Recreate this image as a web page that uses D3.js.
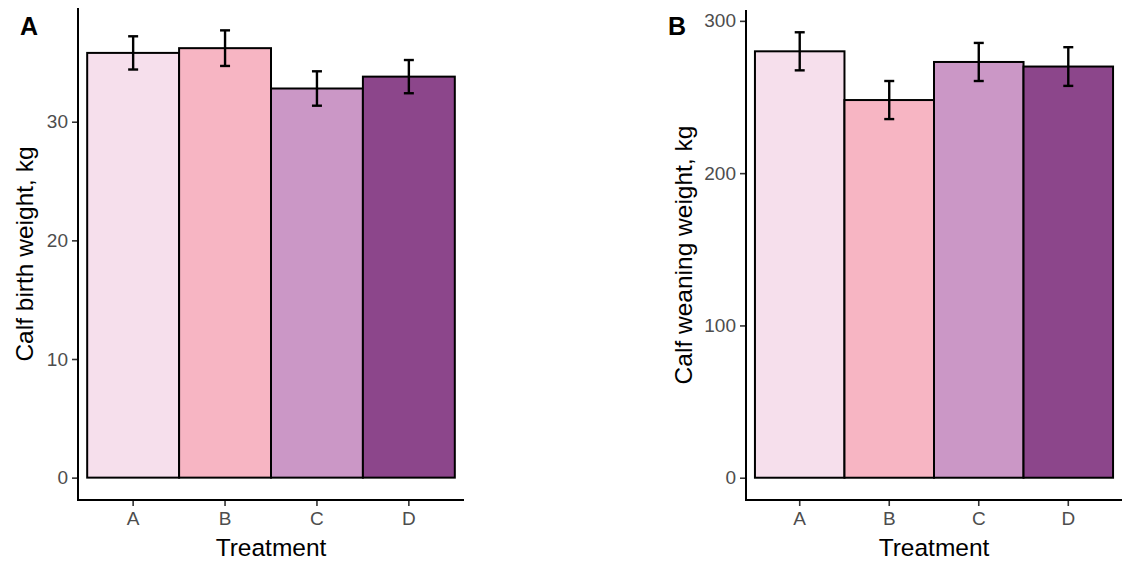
<!DOCTYPE html>
<html>
<head>
<meta charset="utf-8">
<script src="https://cdn.jsdelivr.net/npm/d3@7"></script>
<style>
  body { margin: 0; background: #fff; }
  svg text { font-family: "Liberation Sans", Arial, sans-serif; }
</style>
</head>
<body>
<svg width="1129" height="563"></svg>
<script>
// data
let treatments = ["A", "B", "C", "D"];
let barColors = ["#f6dfec", "#f7b5c3", "#cb97c6", "#8c468b"];

let birthMean = [35.8, 36.2, 32.8, 33.8];
let birthSE = [1.4, 1.5, 1.45, 1.4];
let birthTicks = [0, 10, 20, 30];

let weanMean = [280, 248, 273, 270];
let weanSE = [12.5, 12.5, 12.5, 12.7];
let weanTicks = [0, 100, 200, 300];

let svg = d3.select("svg");

// one panel = one bar chart with error bars
function drawPanel(opt) {
    let g = svg.append("g");

    let x = d3.scaleBand()
        .domain(treatments)
        .range([opt.left, opt.right])
        .paddingInner(0)
        .paddingOuter(0.1);

    // ggplot style expansion of 5% on both sides
    let maxVal = d3.max(opt.mean, (d, i) => d + opt.se[i]);
    let y = d3.scaleLinear()
        .domain([-0.05 * maxVal, 1.05 * maxVal])
        .range([opt.bottom, opt.top]);

    // bars
    g.selectAll("rect.bar")
        .data(opt.mean)
        .enter()
        .append("rect")
        .attr("class", "bar")
        .attr("x", (d, i) => x(treatments[i]))
        .attr("width", x.bandwidth())
        .attr("y", d => y(d))
        .attr("height", d => y(0) - y(d))
        .attr("fill", (d, i) => barColors[i])
        .attr("stroke", "#000")
        .attr("stroke-width", 2);

    // error bars
    let eb = g.selectAll("g.err")
        .data(opt.mean)
        .enter()
        .append("g")
        .attr("class", "err")
        .attr("stroke", "#000")
        .attr("stroke-width", 2.4);
    let cx = (d, i) => x(treatments[i]) + x.bandwidth() / 2;
    eb.append("line")
        .attr("x1", cx).attr("x2", cx)
        .attr("y1", (d, i) => y(d + opt.se[i]))
        .attr("y2", (d, i) => y(d - opt.se[i]));
    eb.append("line")
        .attr("x1", (d, i) => cx(d, i) - 5).attr("x2", (d, i) => cx(d, i) + 5)
        .attr("y1", (d, i) => y(d + opt.se[i]))
        .attr("y2", (d, i) => y(d + opt.se[i]));
    eb.append("line")
        .attr("x1", (d, i) => cx(d, i) - 5).attr("x2", (d, i) => cx(d, i) + 5)
        .attr("y1", (d, i) => y(d - opt.se[i]))
        .attr("y2", (d, i) => y(d - opt.se[i]));

    // axes
    let yAxis = g.append("g")
        .attr("transform", "translate(" + opt.left + ",0)")
        .call(d3.axisLeft(y).tickValues(opt.ticks).tickSize(6).tickPadding(4));
    let xAxis = g.append("g")
        .attr("transform", "translate(0," + opt.bottom + ")")
        .call(d3.axisBottom(x).tickSize(6).tickPadding(6));

    [yAxis, xAxis].forEach(a => {
        a.select(".domain").remove();
        a.selectAll(".tick line").attr("stroke", "#333").attr("stroke-width", 1.6);
        a.selectAll(".tick text")
            .attr("fill", "#4d4d4d")
            .style("font-size", "19px");
    });

    // axis lines (L shape)
    g.append("path")
        .attr("d", "M" + opt.left + "," + opt.top + "V" + opt.bottom + "H" + opt.right)
        .attr("fill", "none")
        .attr("stroke", "#000")
        .attr("stroke-width", 2);

    // titles
    g.append("text")
        .attr("x", (opt.left + opt.right) / 2)
        .attr("y", 556)
        .attr("text-anchor", "middle")
        .style("font-size", "24.5px")
        .attr("fill", "#000")
        .text("Treatment");

    g.append("text")
        .attr("transform", "translate(" + opt.titleX + "," + (opt.top + opt.bottom) / 2 + ") rotate(-90)")
        .attr("text-anchor", "middle")
        .style("font-size", "24.5px")
        .attr("fill", "#000")
        .text(opt.title);

    g.append("text")
        .attr("x", opt.tagX)
        .attr("y", 35)
        .style("font-size", "25px")
        .style("font-weight", "bold")
        .attr("fill", "#000")
        .text(opt.tag);
}

drawPanel({
    mean: birthMean, se: birthSE, ticks: birthTicks,
    left: 78, right: 464, top: 8, bottom: 500,
    title: "Calf birth weight, kg", titleX: 33,
    tag: "A", tagX: 20
});

drawPanel({
    mean: weanMean, se: weanSE, ticks: weanTicks,
    left: 746, right: 1122, top: 10, bottom: 500,
    title: "Calf weaning weight, kg", titleX: 692,
    tag: "B", tagX: 668
});
</script>
</body>
</html>
